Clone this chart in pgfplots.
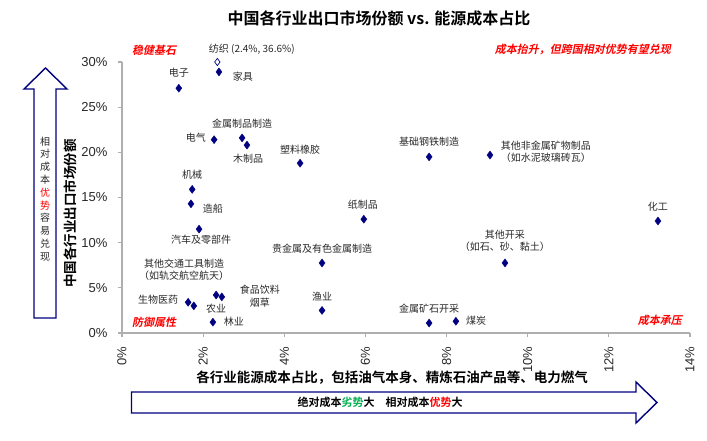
\documentclass[border=0pt]{standalone}
\usepackage{fontspec}
\setmainfont{Liberation Sans}
\newfontfamily\cjk{Noto Sans CJK SC}[BoldFont={Noto Sans CJK SC Bold}]
\newfontfamily\cjkbi{Noto Sans CJK SC Bold}[FakeSlant=0.2]
\usepackage{pgfplots}
\pgfplotsset{compat=1.18}
\definecolor{navy}{RGB}{0,0,128}
\definecolor{axgray}{RGB}{175,175,175}
\definecolor{lbl}{RGB}{40,40,40}
\definecolor{grn}{RGB}{0,176,80}

\begin{document}
\begin{tikzpicture}[
    lab/.style={font=\cjk\fontsize{10}{12.5}\selectfont, text=lbl, inner sep=0pt, align=center},
    note/.style={font=\cjkbi\fontsize{11}{13}\selectfont, text=red, inner sep=0pt}]
\path[use as bounding box] (0pt,0pt) rectangle (707pt,440pt);

\begin{axis}[
    at={(122pt,107pt)}, anchor=south west,
    scale only axis, width=568pt, height=271pt,
    xmin=0, xmax=14, ymin=0, ymax=30,
    axis x line*=bottom, axis y line*=left,
    axis line style={axgray, line width=1.3pt, -},
    xtick={0,2,...,14}, ytick={0,5,...,30},
    tick align=outside, major tick length=4pt,
    tick style={axgray, line width=1.1pt},
    xticklabel={\pgfmathprintnumber{\tick}\%},
    yticklabel={\pgfmathprintnumber{\tick}\%},
    x tick label style={rotate=90, anchor=east, xshift=0pt},
    xticklabel shift=6pt, yticklabel shift=7pt,
    tick label style={font=\fontsize{13}{15}\selectfont, text=lbl},
    /pgf/number format/assume math mode=true,
    clip=false,
]
\addplot[only marks, mark=diamond*, mark size=4pt, color=navy] coordinates {
    (2.39,28.9) (1.40,27.1) (2.27,21.4) (2.96,21.6) (3.08,20.8)
    (4.39,18.8) (7.57,19.5) (9.07,19.7) (1.73,15.9) (1.70,14.3)
    (5.96,12.6) (13.21,12.4) (1.90,11.5) (4.93,7.75) (9.44,7.75)
    (1.63,3.4) (1.77,3.0) (2.32,4.2) (2.46,4.0) (2.24,1.2)
    (4.93,2.5) (7.57,1.1) (8.23,1.3)
};
\addplot[only marks, mark=diamond*, mark size=3.6pt, color=navy, fill=white,
    mark options={fill=white, line width=0.7pt}] coordinates {(2.35,30)};

\node[lab] at (axis cs:3.20,31.45) {纺织 (2.4\%, 36.6\%)};
\node[lab] at (axis cs:2.98,28.35) {家具};
\node[lab] at (axis cs:1.40,28.79) {电子};
\node[lab] at (axis cs:1.82,21.59) {电气};
\node[lab] at (axis cs:2.96,23.15) {金属制品制造};
\node[lab] at (axis cs:3.11,19.27) {木制品};
\node[lab] at (axis cs:4.39,20.27) {塑料橡胶};
\node[lab] at (axis cs:7.57,21.15) {基础钢铁制造};
\node[lab] at (axis cs:10.45,20.04) {其他非金属矿物制品\\（如水泥玻璃砖瓦）};
\node[lab] at (axis cs:1.73,17.50) {机械};
\node[lab] at (axis cs:2.24,13.73) {造船};
\node[lab] at (axis cs:5.94,14.17) {纸制品};
\node[lab] at (axis cs:13.21,13.95) {化工};
\node[lab] at (axis cs:1.95,10.30) {汽车及零部件};
\node[lab] at (axis cs:4.93,9.30) {贵金属及有色金属制造};
\node[lab] at (axis cs:9.44,10.19) {其他开采\\（如石、砂、黏土）};
\node[lab] at (axis cs:1.53,6.98) {其他交通工具制造\\（如轨交航空航天）};
\node[lab] at (axis cs:0.89,3.65) {生物医药};
\node[lab] at (axis cs:2.32,2.66) {农业};
\node[lab] at (axis cs:3.40,4.10) {食品饮料\\烟草};
\node[lab] at (axis cs:2.76,1.22) {林业};
\node[lab] at (axis cs:4.93,3.99) {渔业};
\node[lab] at (axis cs:7.57,2.66) {金属矿石开采};
\node[lab] at (axis cs:8.73,1.33) {煤炭};

\node[note] at (axis cs:0.79,31.34) {稳健基石};
\node[note] at (axis cs:11.36,31.34) {成本抬升，但跨国相对优势有望兑现};
\node[note] at (axis cs:0.79,1.22) {防御属性};
\node[note] at (axis cs:13.26,1.44) {成本承压};
\end{axis}

% title and axis titles
\node[font=\cjk\bfseries\fontsize{16}{18}\selectfont, text=black] at (379pt,422pt)
    {中国各行业出口市场份额 vs. 能源成本占比};
\node[font=\cjk\bfseries\fontsize{13.5}{15}\selectfont, text=black, rotate=90] at (70pt,226.5pt)
    {中国各行业出口市场份额};
\node[font=\cjk\bfseries\fontsize{13.5}{15}\selectfont, text=black] at (392pt,62pt)
    {各行业能源成本占比，包括油气本身、精炼石油产品等、电力燃气};

% left arrow
\draw[navy, line width=1.4pt, fill=white, line join=miter]
    (34pt,122pt) -- (56pt,122pt) -- (56pt,351pt) -- (67pt,351pt) -- (45.5pt,372pt)
    -- (24pt,351pt) -- (34pt,351pt) -- cycle;
\node[font=\cjk\fontsize{10}{12.8}\selectfont, text=lbl, align=center, inner sep=0pt]
    at (45pt,241pt) {相\\对\\成\\本\\\textcolor{red}{优}\\\textcolor{red}{势}\\容\\易\\兑\\现};

% bottom arrow
\draw[navy, line width=1.4pt, fill=white, line join=miter]
    (131.5pt,27pt) -- (636pt,27pt) -- (636pt,17pt) -- (657pt,37.5pt) -- (636pt,58pt)
    -- (636pt,48pt) -- (131.5pt,48pt) -- cycle;
\node[font=\cjk\bfseries\fontsize{11}{13}\selectfont, text=black, inner sep=0pt] at (380pt,37.5pt)
    {绝对成本\textcolor{grn}{劣势}大\quad 相对成本\textcolor{red}{优势}大};
\end{tikzpicture}
\end{document}
